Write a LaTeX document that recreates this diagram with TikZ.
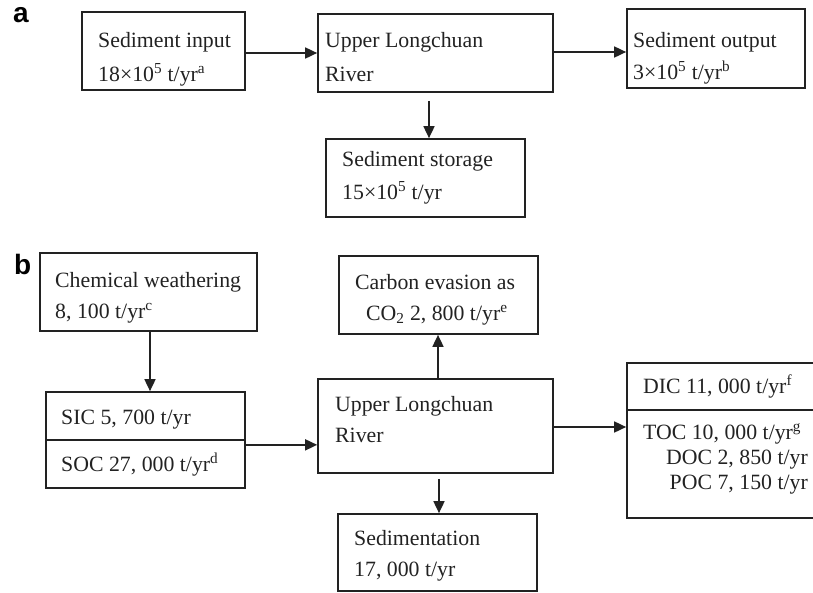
\documentclass[tikz,border=0pt]{standalone}
\usepackage{fontspec}
\setmainfont{Liberation Serif}
\newfontfamily\labfont{Liberation Sans}
\usetikzlibrary{arrows.meta}
\definecolor{ink}{HTML}{222222}
\tikzset{
  box/.style={draw=ink, line width=1.7pt, rectangle, inner sep=0pt, fill=none},
  txt/.style={anchor=base west, inner sep=0pt, text=ink, font=\fontsize{21.8}{26}\selectfont},
  rtxt/.style={anchor=base east, inner sep=0pt, text=ink, font=\fontsize{21.8}{26}\selectfont},
  panel/.style={anchor=base west, inner sep=0pt, text=black, font=\labfont\bfseries\fontsize{28}{30}\selectfont},
  arr/.style={draw=ink, line width=1.7pt, -{Triangle[length=12pt,width=11pt]}}
}
\begin{document}
\begin{tikzpicture}[x=1pt,y=-1pt]
\useasboundingbox (0,0) rectangle (813,592);
% panel a
\node[panel] (la) at (13,22) {a};
\node[box, minimum width=163pt, minimum height=78pt] (inA) at (163.5,51) {};
\node[box, minimum width=235pt, minimum height=78pt] (rivA) at (435.5,53) {};
\node[box, minimum width=178pt, minimum height=79pt] (outA) at (716,48.5) {};
\node[box, minimum width=199pt, minimum height=78pt] (stoA) at (425.5,178) {};
\node[txt] (t1) at (98,47) {Sediment input};
\node[txt] (t2) at (98,81) {18×10\textsuperscript{5} t/yr\textsuperscript{a}};
\node[txt] (t3) at (325,47) {Upper Longchuan};
\node[txt] (t4) at (325,81) {River};
\node[txt] (t5) at (633,47) {Sediment output};
\node[txt] (t6) at (633,79) {3×10\textsuperscript{5} t/yr\textsuperscript{b}};
\node[txt] (t7) at (342,166) {Sediment storage};
\node[txt] (t8) at (342,199) {15×10\textsuperscript{5} t/yr};
\draw[arr] (rivA.west -| inA.east) -- (rivA.west);
\draw[arr] ([yshift=1pt]rivA.east) -- ([yshift=1pt]rivA.east -| outA.west);
\draw[arr] ([shift={(3.5pt,-8pt)}]stoA.north |- rivA.south) -- ([xshift=3.5pt]stoA.north);
% panel b
\node[panel] (lb) at (14,274) {b};
\node[box, minimum width=217pt, minimum height=78pt] (chem) at (148.5,292) {};
\node[box, minimum width=199pt, minimum height=48pt] (sic) at (145.5,416) {};
\node[box, minimum width=199pt, minimum height=48pt] (soc) at (145.5,464) {};
\node[box, minimum width=199pt, minimum height=78pt] (carb) at (438.5,295) {};
\node[box, minimum width=235pt, minimum height=94pt] (rivB) at (435.5,426) {};
\node[box, minimum width=188pt, minimum height=47pt] (dic) at (721,386.5) {};
\node[box, minimum width=188pt, minimum height=108pt] (toc) at (721,464) {};
\node[box, minimum width=199pt, minimum height=77pt] (sed) at (437.5,552.5) {};
\node[txt] (u1) at (55,287) {Chemical weathering};
\node[txt] (u2) at (55,318) {8, 100 t/yr\textsuperscript{c}};
\node[txt] (u3) at (355,289) {Carbon evasion as};
\node[txt] (u4) at (366,320) {CO\textsubscript{2} 2, 800 t/yr\textsuperscript{e}};
\node[txt] (u5) at (61,424) {SIC 5, 700 t/yr};
\node[txt] (u6) at (61,471) {SOC 27, 000 t/yr\textsuperscript{d}};
\node[txt] (u7) at (335,411) {Upper Longchuan};
\node[txt] (u8) at (335,442) {River};
\node[txt] (u9) at (643,393) {DIC 11, 000 t/yr\textsuperscript{f}};
\node[txt] (u10) at (643,439) {TOC 10, 000 t/yr\textsuperscript{g}};
\node[rtxt] (u11) at (808,464) {DOC 2, 850 t/yr};
\node[rtxt] (u12) at (808,489) {POC 7, 150 t/yr};
\node[txt] (u13) at (354,545) {Sedimentation};
\node[txt] (u14) at (354,576) {17, 000 t/yr};
\draw[arr] ([xshift=1.5pt]chem.south) -- ([xshift=1.5pt]chem.south |- sic.north);
\draw[arr] ([yshift=-4pt]sic.south east) -- ([yshift=-4pt]sic.south east -| rivB.west);
\draw[arr] ([xshift=2.5pt]rivB.north) -- ([xshift=2.5pt]rivB.north |- carb.south);
\draw[arr] ([yshift=-1pt]rivB.east) -- ([yshift=-1pt]rivB.east -| dic.west);
\draw[arr] ([shift={(1.5pt,-5pt)}]sed.north |- rivB.south) -- ([xshift=1.5pt]sed.north);
\end{tikzpicture}
\end{document}
